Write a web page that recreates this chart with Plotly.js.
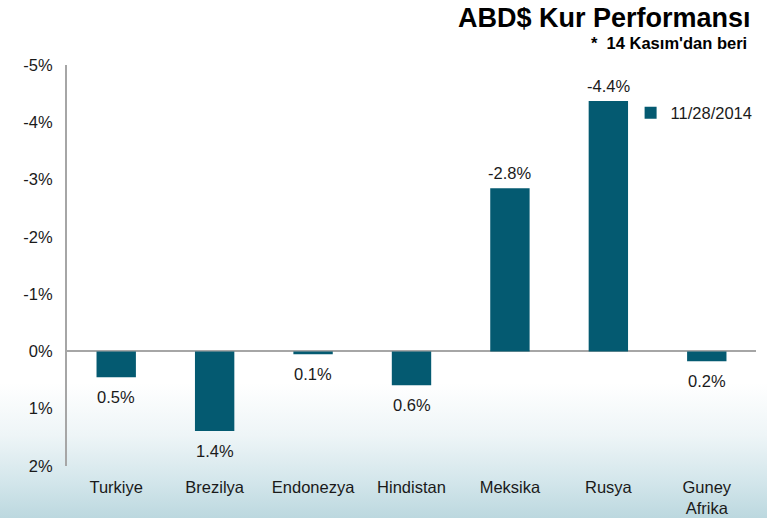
<!DOCTYPE html>
<html>
<head>
<meta charset="utf-8">
<script src="https://cdn.plot.ly/plotly-3.0.1.min.js"></script>
<style>
html, body { margin:0; padding:0; width:767px; height:518px; overflow:hidden;
  background: linear-gradient(to bottom, #ffffff 0%, #ffffff 74%, #eef5f7 84%, #d3e6eb 93%, #bcd8df 100%); }
#chart { width:767px; height:518px; }
</style>
</head>
<body>
<div id="chart"></div>
<script>
const categories = ["Turkiye", "Brezilya", "Endonezya", "Hindistan", "Meksika", "Rusya", "Guney<br>Afrika"];
const values = [0.45, 1.39, 0.05, 0.59, -2.85, -4.37, 0.17];
const valueLabels = ["0.5%", "1.4%", "0.1%", "0.6%", "-2.8%", "-4.4%", "0.2%"];
const seriesName = "11/28/2014";
const yTicks = [-5, -4, -3, -2, -1, 0, 1, 2];
const yTickLabels = ["-5%", "-4%", "-3%", "-2%", "-1%", "0%", "1%", "2%"];

const font = "Liberation Sans, Arial, sans-serif";
const narrow = "Liberation Sans Narrow, Arial Narrow, Liberation Sans, sans-serif";

const labelAnnotations = categories.map((c, i) => ({
  x: c, y: values[i], xref: "x", yref: "y",
  text: valueLabels[i], showarrow: false,
  yanchor: "middle", xanchor: "center",
  yshift: values[i] > 0 ? -20 : 15,
  font: { family: font, size: 16.5, color: "#1a1a1a" }
}));

Plotly.newPlot("chart", [{
  type: "bar",
  x: categories,
  y: values,
  name: seriesName,
  marker: { color: "#045a71" },
  width: 0.40,
  hoverinfo: "x+y"
}], {
  width: 767, height: 518,
  paper_bgcolor: "rgba(0,0,0,0)",
  plot_bgcolor: "rgba(0,0,0,0)",
  margin: { l: 67, r: 11, t: 65, b: 52, autoexpand: false },
  showlegend: true,
  legend: {
    x: 0.818, y: 0.88, xanchor: "left", yanchor: "middle",
    font: { family: font, size: 16.5, color: "#1a1a1a" },
    bgcolor: "rgba(0,0,0,0)",
    itemwidth: 30
  },
  xaxis: {
    showline: false, showgrid: false, zeroline: false,
    ticks: "", tickfont: { family: font, size: 16.5, color: "#1a1a1a" },
    ticklabelstandoff: 9
  },
  yaxis: {
    range: [2, -5],
    tickvals: yTicks, ticktext: yTickLabels,
    showgrid: false,
    zeroline: true, zerolinecolor: "#a6a6a6", zerolinewidth: 2,
    showline: true, linecolor: "#a6a6a6", linewidth: 2,
    ticks: "", ticklabelstandoff: 9,
    tickfont: { family: font, size: 16.5, color: "#1a1a1a" }
  },
  annotations: labelAnnotations.concat([
    { text: "<b>ABD$ Kur Performansı</b>", xref: "paper", yref: "paper",
      x: 0.995, y: 1.117, xanchor: "right", yanchor: "middle", showarrow: false,
      font: { family: narrow, size: 27, color: "#000" } },
    { text: "<b>*  14 Kasım'dan beri</b>", xref: "paper", yref: "paper",
      x: 0.99, y: 1.055, xanchor: "right", yanchor: "middle", showarrow: false,
      font: { family: narrow, size: 16.5, color: "#000" } }
  ])
}, { displayModeBar: false, staticPlot: true });
</script>
</body>
</html>
